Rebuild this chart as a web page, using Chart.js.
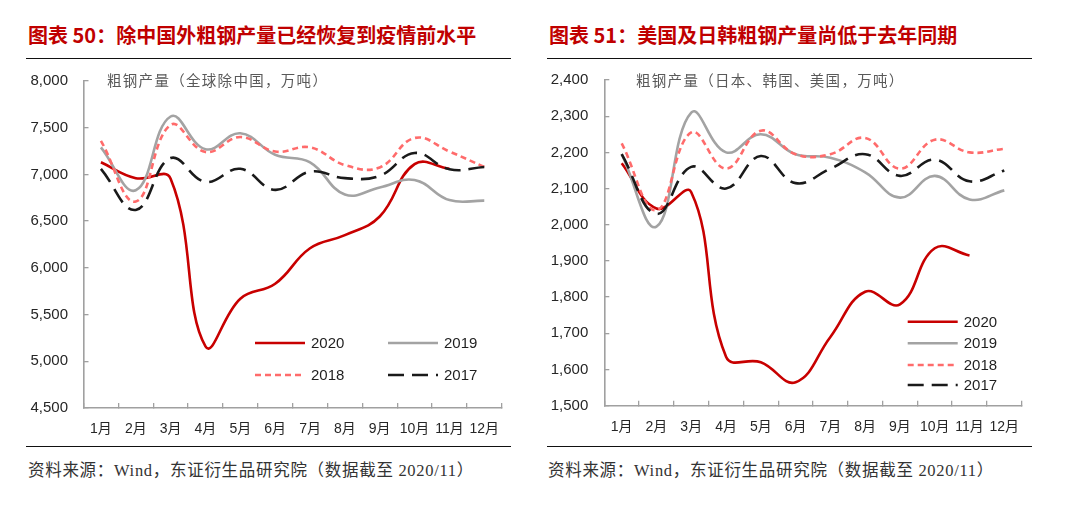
<!DOCTYPE html>
<html lang="zh-CN">
<head>
<meta charset="utf-8">
<title>粗钢产量</title>
<script src="https://cdn.jsdelivr.net/npm/chart.js@4/dist/chart.umd.min.js"></script>
<style>
  body { margin: 0; background: #fff; }
  #pagina { position: relative; width: 1080px; height: 507px; overflow: hidden; }
  .titulo { position: absolute; top: 22px; height: 26px; line-height: 26px; font-size: 20px; font-weight: bold;
            color: #c00000; font-family: "Noto Sans CJK SC", sans-serif; white-space: nowrap; }
  .regua { position: absolute; height: 0; border-top: 1.5px solid #111; }
  .unidade { position: absolute; top: 71px; height: 18px; line-height: 18px; font-size: 14.5px; letter-spacing: 1.3px;
             color: #595959; font-family: "Noto Sans CJK SC", sans-serif; white-space: nowrap; }
  .fonte { position: absolute; top: 461px; height: 20px; line-height: 20px; font-size: 16.5px; letter-spacing: 0.7px; color: #333;
           font-family: "Liberation Serif", "Noto Sans CJK SC", serif; white-space: nowrap; }
  canvas { position: absolute; top: 70px; }
</style>
</head>
<body>
<div id="pagina">
  <div class="titulo" style="left:28px">图表 50：除中国外粗钢产量已经恢复到疫情前水平</div>
  <div class="titulo" style="left:549px">图表 51：美国及日韩粗钢产量尚低于去年同期</div>
  <div class="regua" style="left:26px; width:485px; top:58px"></div>
  <div class="regua" style="left:547px; width:485px; top:58px"></div>

  <canvas id="graficoMundo" width="500" height="375" style="left:20px"></canvas>
  <canvas id="graficoEUA" width="500" height="375" style="left:540px"></canvas>

  <div class="unidade" style="left:107px">粗钢产量（全球除中国，万吨）</div>
  <div class="unidade" style="left:636px">粗钢产量（日本、韩国、美国，万吨）</div>

  <div class="regua" style="left:26px; width:485px; top:446px"></div>
  <div class="regua" style="left:547px; width:485px; top:446px"></div>
  <div class="fonte" style="left:28px">资料来源：Wind，东证衍生品研究院（数据截至 2020/11）</div>
  <div class="fonte" style="left:548px">资料来源：Wind，东证衍生品研究院（数据截至 2020/11）</div>
</div>

<script>
const meses = ['1月', '2月', '3月', '4月', '5月', '6月', '7月', '8月', '9月', '10月', '11月', '12月'];
const anos = ['2020', '2019', '2018', '2017'];

// 全球除中国，万吨
const mundo2020 = [7130, 6960, 6955, 5160, 5670, 5830, 6210, 6350, 6550, 7110, 7060];
const mundo2019 = [7290, 6830, 7620, 7270, 7440, 7210, 7130, 6785, 6860, 6940, 6725, 6720];
const mundo2018 = [7360, 6710, 7530, 7240, 7400, 7245, 7290, 7100, 7075, 7390, 7245, 7080];
const mundo2017 = [7060, 6620, 7175, 6920, 7060, 6835, 7030, 6960, 6985, 7230, 7055, 7080];
const eixoMundo = { min: 4500, max: 8000, passo: 500 };

// 日本、韩国、美国，万吨
const eua2020 = [2170, 2045, 2090, 1635, 1620, 1565, 1690, 1815, 1780, 1935, 1915];
const eua2019 = [2195, 1995, 2310, 2200, 2250, 2195, 2185, 2145, 2075, 2135, 2070, 2095];
const eua2018 = [2225, 2040, 2255, 2155, 2260, 2195, 2195, 2240, 2155, 2235, 2200, 2210];
const eua2017 = [2195, 2030, 2160, 2100, 2190, 2115, 2155, 2195, 2135, 2180, 2120, 2150];
const eixoEUA = { min: 1500, max: 2400, passo: 100 };

const estilos = [
  { cor: '#c80000', traco: [], ordem: 4 },
  { cor: '#a3a3a3', traco: [], ordem: 3 },
  { cor: '#ff6b6b', traco: [6, 4], ordem: 2 },
  { cor: '#1a1a1a', traco: [16, 8], ordem: 1 }
];

const fonteNum = "'Liberation Sans', Arial, 'Noto Sans CJK SC', sans-serif";
const corEixo = '#a0a0a0';

// legenda desenhada dentro da área do gráfico
const legendaInterna = {
  id: 'legendaInterna',
  afterDatasetsDraw(chart, args, opts) {
    const { ctx, chartArea } = chart;
    ctx.save();
    chart.data.datasets.forEach((ds, i) => {
      const p = opts.posicoes[i];
      const x0 = chartArea.left + p.x;
      const y0 = chartArea.top + p.y;
      ctx.beginPath();
      ctx.setLineDash(ds.borderDash || []);
      ctx.strokeStyle = ds.borderColor;
      ctx.lineWidth = ds.borderWidth;
      ctx.moveTo(x0, y0);
      ctx.lineTo(x0 + opts.comprimento, y0);
      ctx.stroke();
      ctx.setLineDash([]);
      ctx.fillStyle = '#1f1f1f';
      ctx.font = '15px ' + fonteNum;
      ctx.textBaseline = 'middle';
      ctx.fillText(ds.label, x0 + opts.comprimento + 6, y0 + 1);
    });
    ctx.restore();
  }
};

function criarGrafico(idCanvas, series, eixo, area, posLegenda) {
  const datasets = series.map((valores, i) => ({
    label: anos[i],
    data: valores,
    borderColor: estilos[i].cor,
    borderDash: estilos[i].traco,
    borderWidth: 2.6,
    order: estilos[i].ordem,
    pointRadius: 0,
    tension: 0.42,
    fill: false
  }));

  const ctx = document.getElementById(idCanvas).getContext('2d');
  return new Chart(ctx, {
    type: 'line',
    data: { labels: meses, datasets: datasets },
    plugins: [legendaInterna],
    options: {
      responsive: false,
      animation: false,
      layout: { padding: { top: area.topo, right: area.direita, left: 0, bottom: 0 } },
      plugins: {
        legend: { display: false },
        tooltip: { enabled: false },
        legendaInterna: { posicoes: posLegenda, comprimento: 50 }
      },
      scales: {
        x: {
          offset: true,
          grid: { offset: true, drawOnChartArea: false, drawTicks: true, tickLength: -5, color: corEixo, lineWidth: 1.3 },
          border: { color: corEixo, width: 1.6 },
          ticks: { color: '#262626', font: { family: fonteNum, size: 14 }, padding: 17.6, maxRotation: 0, autoSkip: false },
          afterFit: s => {
            s.height = area.alturaX;
            s.paddingLeft = 0;
            s.paddingRight = 0;
          }
        },
        y: {
          min: eixo.min,
          max: eixo.max,
          grid: { drawOnChartArea: false, drawTicks: true, tickLength: -5, color: corEixo, lineWidth: 1.3 },
          border: { color: corEixo, width: 1.6 },
          ticks: {
            stepSize: eixo.passo,
            color: '#262626',
            font: { family: fonteNum, size: 15 },
            padding: area.padY,
            callback: v => v.toLocaleString('en-US')
          },
          afterFit: s => {
            s.width = area.larguraY;
            // o padding dos rótulos não deve empurrar a área do gráfico
            s.paddingTop = 0;
            s.paddingBottom = 0;
          }
        }
      }
    }
  });
}

criarGrafico('graficoMundo', [mundo2020, mundo2019, mundo2018, mundo2017], eixoMundo,
  { topo: 11, direita: 18.3, alturaX: 37, larguraY: 63.5, padY: 20.5 },
  [{ x: 171.5, y: 262 }, { x: 304.5, y: 262 }, { x: 171.5, y: 294 }, { x: 304.5, y: 294 }]);

criarGrafico('graficoEUA', [eua2020, eua2019, eua2018, eua2017], eixoEUA,
  { topo: 10, direita: 18.3, alturaX: 39.3, larguraY: 64.3, padY: 21 },
  [{ x: 303.4, y: 241.7 }, { x: 303.4, y: 263.3 }, { x: 303.4, y: 285 }, { x: 303.4, y: 305 }]);
</script>
</body>
</html>
